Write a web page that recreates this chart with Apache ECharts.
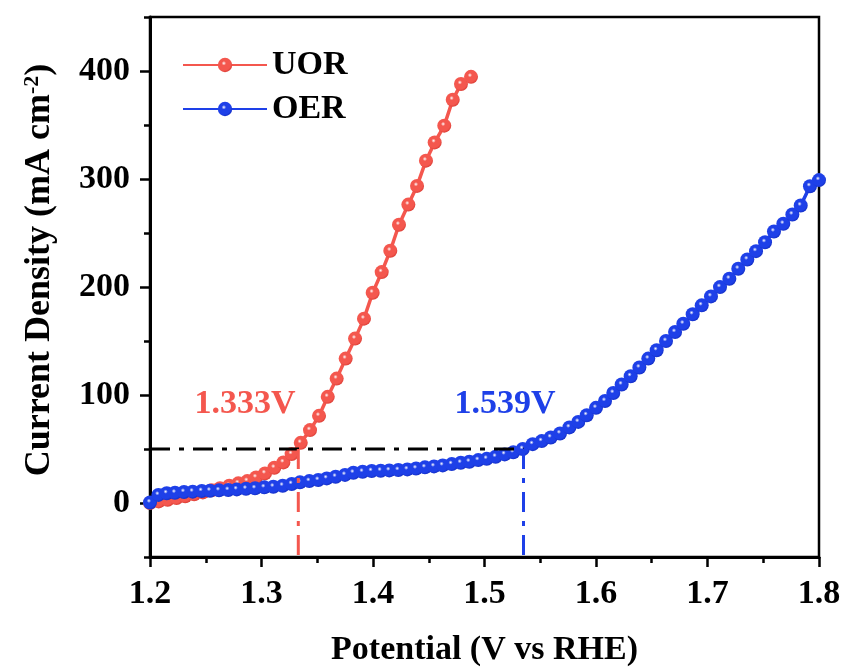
<!DOCTYPE html>
<html>
<head>
<meta charset="utf-8">
<script src="https://cdn.jsdelivr.net/npm/echarts@6/dist/echarts.min.js"></script>
<style>
html,body{margin:0;padding:0;background:#fff;}
#chart{width:845px;height:668px;}
</style>
</head>
<body>
<div id="chart"></div>
<script>
// ---- data ----
const uorV = [1.2000,1.2078,1.2158,1.2238,1.2316,1.2396,1.2474,1.2552,1.2628,1.2711,1.2792,1.2873,1.2951,1.3031,1.3115,1.3196,1.3270,1.3352,1.3435,1.3516,1.3594,1.3674,1.3755,1.3839,1.3919,1.3997,1.4078,1.4155,1.4233,1.4317,1.4395,1.4475,1.4553,1.4639,1.4715,1.4789,1.4879];
const uorJ = [0.0,1.5,3.0,4.6,6.3,8.0,9.8,11.7,13.6,16.0,18.2,20.3,23.7,27.4,32.6,37.6,45.3,55.7,67.5,80.7,98.3,115.2,133.7,152.2,170.7,194.7,213.8,233.6,257.6,276.3,293.6,317.0,333.9,349.4,373.4,387.9,394.6];

const oerV = [1.2000,1.2075,1.2150,1.2224,1.2305,1.2383,1.2464,1.2538,1.2619,1.2702,1.2778,1.2861,1.2942,1.3025,1.3106,1.3190,1.3271,1.3345,1.3429,1.3509,1.3585,1.3665,1.3749,1.3824,1.3907,1.3988,1.4069,1.4146,1.4227,1.4308,1.4386,1.4466,1.4547,1.4625,1.4706,1.4787,1.4864,1.4944,1.5020,1.5100,1.5181,1.5258,1.5343,1.5432,1.5513,1.5594,1.5677,1.5761,1.5841,1.5917,1.6000,1.6081,1.6155,1.6230,1.6311,1.6389,1.6469,1.6544,1.6628,1.6709,1.6783,1.6867,1.6948,1.7031,1.7112,1.7196,1.7276,1.7357,1.7435,1.7516,1.7596,1.7680,1.7761,1.7836,1.7919,1.8000];
const oerJ = [0.5,7.5,9.0,9.5,10.2,10.5,11.1,11.4,11.7,12.0,12.6,13.2,13.6,14.5,15.1,16.0,17.6,19.1,20.3,21.3,22.8,24.3,26.0,28.0,28.9,29.6,29.9,30.2,30.5,31.1,32.0,33.0,33.9,34.8,36.0,37.2,38.2,39.7,40.9,42.8,45.0,46.9,50.0,54.5,57.3,60.7,64.4,70.0,75.1,81.3,88.1,94.5,101.9,109.7,117.4,125.4,133.7,141.4,150.0,158.3,166.0,174.7,183.0,191.3,199.9,207.7,216.9,225.5,233.2,241.5,251.4,258.5,267.1,275.4,293.3,299.0];

const seriesNames = ['UOR', 'OER'];
const threshold = 50;          // mA cm-2
const uorOnset = 1.333;        // V
const oerOnset = 1.535;        // V (drawn position)
const onsetLabels = ['1.333V', '1.539V'];
const xTicks = [1.2, 1.3, 1.4, 1.5, 1.6, 1.7, 1.8];
const yMajor = [0, 100, 200, 300, 400];
const yMinor = [-50, 50, 150, 250, 350, 450];

const RED = '#F4574E';
const RED_D = '#DD4038';
const BLUE = '#1E40E8';
const BLUE_D = '#1530C8';
const FONT = '"Liberation Serif", "Times New Roman", serif';

function ball(c, d) {
  return {
    type: 'radial', x: 0.42, y: 0.38, r: 0.62,
    colorStops: [
      {offset: 0, color: '#ffffff'},
      {offset: 0.25, color: c},
      {offset: 0.78, color: c},
      {offset: 1, color: d}
    ]
  };
}
function zip(a, b) { return a.map((v, i) => [v, b[i]]); }

const chart = echarts.init(document.getElementById('chart'), null, {renderer: 'canvas'});
const dash = [20, 9, 5, 9];

chart.setOption({
  animation: false,
  backgroundColor: '#fff',
  grid: {left: 150, right: 26, top: 17, bottom: 111, outerBoundsMode: 'none', containLabel: false,
         show: true, borderColor: '#000', borderWidth: 2.5, backgroundColor: 'transparent'},
  legend: {
    data: seriesNames,
    orient: 'vertical',
    left: 177, top: 43,
    itemWidth: 84, itemHeight: 18, itemGap: 10,
    textStyle: {fontFamily: FONT, fontWeight: 'bold', fontSize: 34, color: '#000'}
  },
  xAxis: {
    type: 'value', min: 1.2, max: 1.8, interval: 0.1,
    axisLine: {onZero: false, lineStyle: {color: '#000', width: 3}},
    axisTick: {length: 10, lineStyle: {color: '#000', width: 2.5}},
    minorTick: {show: true, splitNumber: 2, length: 6, lineStyle: {color: '#000', width: 2.5}},
    splitLine: {show: false},
    axisLabel: {
      customValues: xTicks,
      margin: 20, color: '#000', fontFamily: FONT, fontWeight: 'bold', fontSize: 34,
      formatter: v => v.toFixed(1)
    },
    name: 'Potential (V vs RHE)', nameLocation: 'middle', nameGap: 76,
    nameTextStyle: {fontFamily: FONT, fontWeight: 'bold', fontSize: 34, color: '#000'}
  },
  yAxis: [{
    type: 'value', min: -50, max: 450,
    axisLine: {show: true, onZero: false, lineStyle: {color: '#000', width: 3}},
    axisTick: {show: true, customValues: yMajor, length: 10, lineStyle: {color: '#000', width: 2.5}},
    axisLabel: {customValues: yMajor, margin: 20, color: '#000', fontFamily: FONT, fontWeight: 'bold', fontSize: 34},
    splitLine: {show: false}
  }, {
    type: 'value', min: -50, max: 450, position: 'left', offset: 0,
    axisLine: {show: false, onZero: false},
    axisTick: {show: true, customValues: yMinor, length: 6, lineStyle: {color: '#000', width: 2.5}},
    axisLabel: {show: false},
    splitLine: {show: false}
  }],
  series: [
    {
      name: seriesNames[0], type: 'line', data: zip(uorV, uorJ),
      symbol: 'circle', symbolSize: 14, showAllSymbol: true,
      lineStyle: {color: RED, width: 3.5},
      itemStyle: {color: ball(RED, RED_D)},
      z: 3
    },
    {
      name: seriesNames[1], type: 'line', data: zip(oerV, oerJ),
      symbol: 'circle', symbolSize: 14, showAllSymbol: true,
      lineStyle: {color: BLUE, width: 3.5},
      itemStyle: {color: ball(BLUE, BLUE_D)},
      z: 4
    },
    {
      name: 'h', type: 'line', data: [[1.2, threshold], [oerOnset, threshold]],
      symbol: 'none', lineStyle: {color: '#000', width: 3, type: dash}, z: 5, silent: true
    },
    {
      name: 'vu', type: 'line', data: [[uorOnset, threshold], [uorOnset, -50]],
      symbol: 'none', lineStyle: {color: RED, width: 3, type: dash}, z: 5, silent: true
    },
    {
      name: 'vo', type: 'line', data: [[oerOnset, threshold], [oerOnset, -50]],
      symbol: 'none', lineStyle: {color: BLUE, width: 3, type: dash}, z: 5, silent: true
    }
  ],
  graphic: [
    {
      type: 'text', x: 40, y: 270, rotation: Math.PI / 2,
      style: {
        text: '{a|Current Density (mA cm}{s|-2}{a|)}',
        align: 'center', verticalAlign: 'middle',
        rich: {
          a: {fontFamily: FONT, fontWeight: 'bold', fontSize: 36, fill: '#000', lineHeight: 38},
          s: {fontFamily: FONT, fontWeight: 'bold', fontSize: 22, fill: '#000', verticalAlign: 'top', lineHeight: 38, padding: [0, 0, 12, 0]}
        }
      }
    },
    {
      type: 'text', x: 245, y: 404,
      style: {text: onsetLabels[0], fill: RED, fontFamily: FONT, fontWeight: 'bold', fontSize: 34, align: 'center', verticalAlign: 'middle'}
    },
    {
      type: 'text', x: 505, y: 404,
      style: {text: onsetLabels[1], fill: BLUE, fontFamily: FONT, fontWeight: 'bold', fontSize: 34, align: 'center', verticalAlign: 'middle'}
    }
  ]
});
</script>
</body>
</html>
